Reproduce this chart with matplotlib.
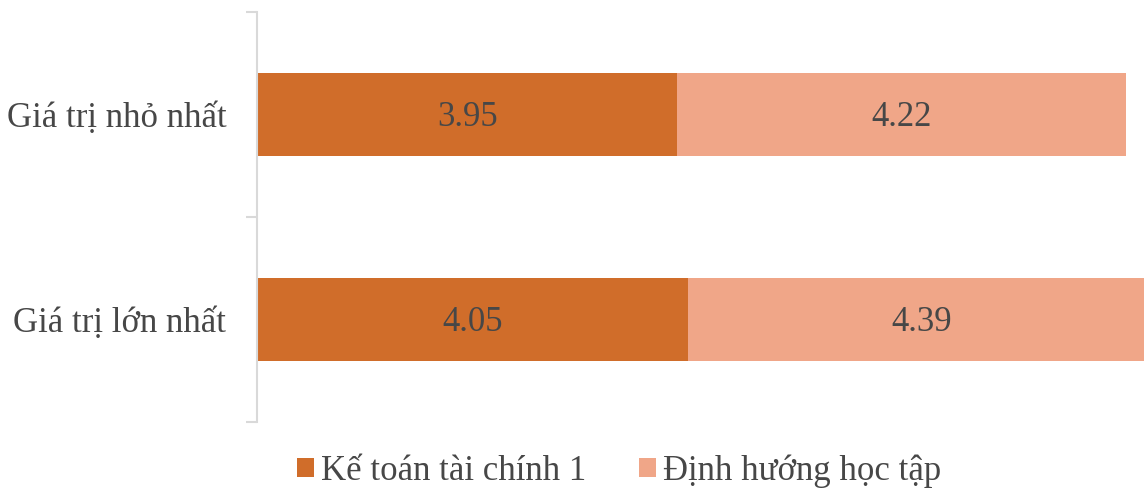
import matplotlib.pyplot as plt
import numpy as np

plt.rcParams['font.family'] = ['Liberation Serif', 'DejaVu Serif']

categories = ['Giá trị nhỏ nhất', 'Giá trị lớn nhất']
ke_toan = [3.95, 4.05]
dinh_huong = [4.22, 4.39]
series_names = ['Kế toán tài chính 1', 'Định hướng học tập']
colors = ['#D06D2A', '#F0A688']
text_color = '#474747'

fig = plt.figure(figsize=(11.44, 4.9), dpi=100)
ax = fig.add_axes([257 / 1144, 68 / 490, 1 - 257 / 1144, 410 / 490])

y = np.arange(len(categories))
b1 = ax.barh(y, ke_toan, height=0.405, color=colors[0], label=series_names[0])
b2 = ax.barh(y, dinh_huong, left=ke_toan, height=0.405, color=colors[1], label=series_names[1])

# numbers sit with their baseline a bit under the bar centre
for i in range(len(categories)):
    ax.text(ke_toan[i] / 2, y[i] + 0.055, f'{ke_toan[i]:.2f}', ha='center', va='baseline',
            fontsize=25, color=text_color)
    ax.text(ke_toan[i] + dinh_huong[i] / 2, y[i] + 0.055, f'{dinh_huong[i]:.2f}', ha='center',
            va='baseline', fontsize=25, color=text_color)

ax.set_xlim(0, 887 / 106.4)
ax.set_ylim(1.5, -0.5)
ax.set_yticks(y)
ax.set_yticklabels(categories, fontsize=25, color=text_color)
ax.set_yticks([-0.5, 0.5, 1.5], minor=True)
ax.tick_params(axis='y', which='major', length=0, pad=22)
ax.tick_params(axis='y', which='minor', length=8, color='#D9D9D9', width=1.5)
ax.set_xticks([])
for s in ['top', 'right', 'bottom']:
    ax.spines[s].set_visible(False)
ax.spines['left'].set_color('#D9D9D9')
ax.spines['left'].set_linewidth(1.5)

fig.legend(handles=[b1, b2], loc='center', bbox_to_anchor=(619 / 1144, 1 - 471 / 490), ncol=2,
           frameon=False, fontsize=25, labelcolor=text_color, handlelength=0.5,
           handleheight=0.5, handletextpad=0.2, columnspacing=1.5)

fig.savefig('out.png', dpi=100)
